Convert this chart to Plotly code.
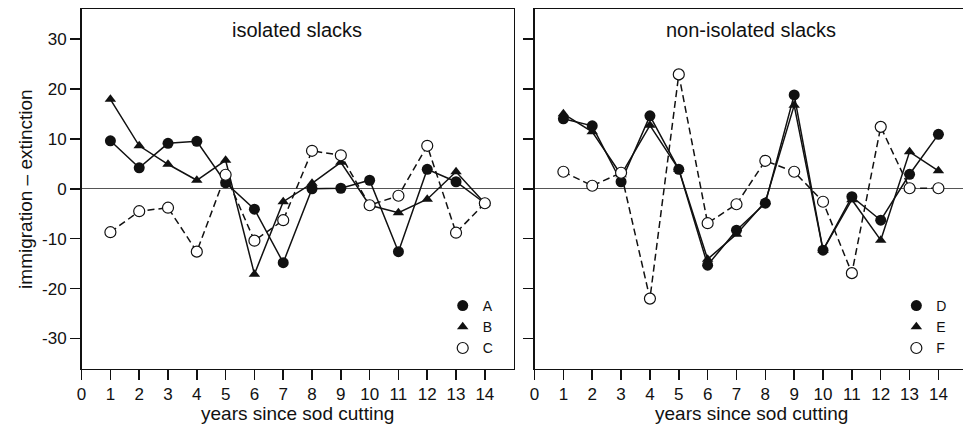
import plotly.graph_objects as go

W, H = 963, 426

years = list(range(1, 15))

# isolated slacks
A = [9.6, 4.2, 9.1, 9.5, 1.2, -4.1, -14.8, 0.0, 0.1, 1.7, -12.6, 3.9, 1.4, -2.9]
B = [17.9, 8.6, 4.9, 1.7, 5.7, -17.1, -2.6, 1.1, 5.3, -3.3, -4.8, -2.1, 3.4, -2.9]
C = [-8.7, -4.5, -3.8, -12.6, 2.8, -10.4, -6.3, 7.6, 6.7, -3.3, -1.4, 8.6, -8.8, -2.9]
# non-isolated slacks
D = [14.0, 12.6, 1.4, 14.6, 3.9, -15.3, -8.3, -2.9, 18.8, -12.3, -1.6, -6.3, 2.9, 10.9]
E = [15.0, 11.4, 2.8, 12.7, 3.9, -14.1, -9.1, -2.6, 16.7, -12.3, -2.2, -10.3, 7.4, 3.6]
F = [3.4, 0.6, 3.2, -22.0, 22.9, -6.9, -3.1, 5.6, 3.4, -2.6, -16.9, 12.4, 0.1, 0.1]

y_ticks = [-30, -20, -10, 0, 10, 20, 30]
y_tick_labels = ["-30", "-20", "-10", "0", "10", "20", "30"]
x_ticks = list(range(0, 15))

panel_titles = ["isolated slacks", "non-isolated slacks"]
x_title = "years since sod cutting"
y_title = "immigration \u2013 extinction"

FONT = "Liberation Sans, Arial, sans-serif"
INK = "#111111"

def px(x):
    return x / W

def py(y):
    return 1 - y / H

fig = go.Figure()

series = [
    ("A", A, "circle", "solid", "x", "y", "legend"),
    ("B", B, "triangle-up", "solid", "x", "y", "legend"),
    ("C", C, "circle-open", "7px,4px", "x", "y", "legend"),
    ("D", D, "circle", "solid", "x2", "y2", "legend2"),
    ("E", E, "triangle-up", "solid", "x2", "y2", "legend2"),
    ("F", F, "circle-open", "7px,4px", "x2", "y2", "legend2"),
]

# lines first
for name, vals, sym, dash, xa, ya, lg in series:
    fig.add_trace(go.Scatter(
        x=years, y=vals, mode="lines", xaxis=xa, yaxis=ya,
        line=dict(color=INK, width=1.5, dash=dash),
        showlegend=False, hoverinfo="skip"))

# markers on top
for name, vals, sym, dash, xa, ya, lg in series:
    if sym == "circle-open":
        marker = dict(symbol="circle", size=11, color="white",
                      line=dict(color=INK, width=1.2))
    elif sym == "triangle-up":
        marker = dict(symbol="triangle-up", size=10, color=INK,
                      line=dict(color=INK, width=0))
    else:
        marker = dict(symbol="circle", size=11, color=INK,
                      line=dict(color=INK, width=0))
    fig.add_trace(go.Scatter(
        x=years, y=vals, mode="markers", xaxis=xa, yaxis=ya,
        marker=marker, name=name, legend=lg, showlegend=True))

axis_common = dict(
    showgrid=False, showline=True, linecolor=INK, linewidth=1.5,
    ticks="outside", ticklen=10, tickwidth=1.5, tickcolor=INK,
    tickfont=dict(family=FONT, size=17, color=INK),
)

x1_dom = [px(77), px(511.3)]
x2_dom = [px(532.3), 1.0]
y_dom = [py(368.5), py(9)]

legend_common = dict(xanchor="left", yanchor="top",
                     bgcolor="rgba(0,0,0,0)", borderwidth=0, tracegroupgap=0,
                     font=dict(family=FONT, size=14, color=INK), itemwidth=30)

fig.update_layout(
    width=W, height=H,
    margin=dict(l=0, r=0, t=0, b=0),
    paper_bgcolor="white", plot_bgcolor="white",
    font=dict(family=FONT, color=INK),
    xaxis=dict(domain=x1_dom, range=[0, 15], tickvals=x_ticks, mirror=True,
               zeroline=False, anchor="y", **axis_common),
    yaxis=dict(domain=y_dom, range=[-36, 36], tickvals=y_ticks, ticktext=y_tick_labels,
               mirror=True, zeroline=True, zerolinecolor="#555555", zerolinewidth=1,
               anchor="x", **axis_common),
    xaxis2=dict(domain=x2_dom, range=[0, (W - 532.3) / 29.0], tickvals=x_ticks, mirror=True,
                zeroline=False, anchor="y2", **axis_common),
    yaxis2=dict(domain=y_dom, range=[-36, 36], tickvals=y_ticks, showticklabels=False,
                mirror=False, zeroline=True, zerolinecolor="#555555", zerolinewidth=1,
                anchor="x2", **axis_common),
    legend=dict(x=px(440), y=py(290), **legend_common),
    legend2=dict(x=px(896), y=py(290), **legend_common),
    showlegend=True,
)

annotations = [
    dict(text=panel_titles[0], x=px(294), y=py(30), xref="paper", yref="paper",
         xanchor="center", yanchor="middle", showarrow=False,
         font=dict(family=FONT, size=20, color=INK)),
    dict(text=panel_titles[1], x=px(750), y=py(30), xref="paper", yref="paper",
         xanchor="center", yanchor="middle", showarrow=False,
         font=dict(family=FONT, size=20, color=INK)),
    dict(text=x_title, x=px(294), y=py(413), xref="paper", yref="paper",
         xanchor="center", yanchor="middle", showarrow=False,
         font=dict(family=FONT, size=19, color=INK)),
    dict(text=x_title, x=px(750), y=py(413), xref="paper", yref="paper",
         xanchor="center", yanchor="middle", showarrow=False,
         font=dict(family=FONT, size=19, color=INK)),
    dict(text=y_title, x=px(20), y=py(189), xref="paper", yref="paper",
         xanchor="center", yanchor="middle", showarrow=False, textangle=-90,
         font=dict(family=FONT, size=19, color=INK)),
]
fig.update_layout(annotations=annotations)

fig.write_html(
    "out.html",
    config={"displayModeBar": False, "staticPlot": True},
    post_script="document.body.style.margin='0';document.body.style.overflow='hidden';",
)
